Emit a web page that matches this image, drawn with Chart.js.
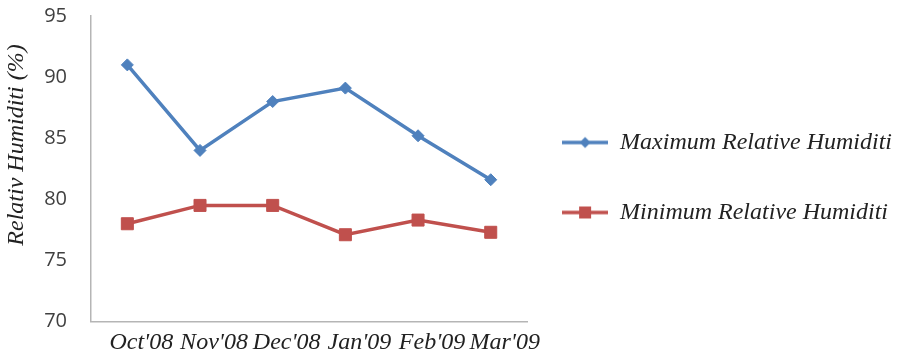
<!DOCTYPE html>
<html>
<head>
<meta charset="utf-8">
<script src="https://cdn.jsdelivr.net/npm/chart.js@4/dist/chart.umd.min.js"></script>
<style>
  html, body { margin: 0; padding: 0; background: #ffffff; }
  #wrap { width: 897px; height: 355px; position: relative; }
</style>
</head>
<body>
<div id="wrap"><canvas id="rh"></canvas></div>
<script>
// Monthly relative humidity, October 2008 to March 2009
const months = ["Oct'08", "Nov'08", "Dec'08", "Jan'09", "Feb'09", "Mar'09"];
const maxHumidity = [91, 84, 88, 89.1, 85.2, 81.6];
const minHumidity = [78, 79.5, 79.5, 77.1, 78.3, 77.3];
const yMin = 70, yMax = 95, yStep = 5;
const seriesNames = ['Maximum Relative Humiditi', 'Minimum Relative Humiditi'];
const yTitle = 'Relativ Humiditi (%)';

const BLUE = '#4f81bd';
const RED = '#c0504d';
const SERIF = '"Liberation Serif", "Times New Roman", serif';

// Legend icons: a short line segment with the series marker in the middle
function legendIcon(color, shape) {
  const c = document.createElement('canvas');
  c.width = 46; c.height = 16;
  const g = c.getContext('2d');
  g.strokeStyle = color; g.lineWidth = 3.5;
  g.beginPath(); g.moveTo(0, 8); g.lineTo(46, 8); g.stroke();
  g.fillStyle = color;
  g.beginPath();
  if (shape === 'diamond') {
    g.moveTo(23, 2.5); g.lineTo(28.5, 8); g.lineTo(23, 13.5); g.lineTo(17.5, 8);
  } else {
    g.rect(17, 2, 12, 12);
  }
  g.closePath(); g.fill();
  return c;
}
const legendIcons = [legendIcon(BLUE, 'diamond'), legendIcon(RED, 'square')];

// Rotated y-axis caption
const yCaption = {
  id: 'yCaption',
  afterDraw(chart) {
    const ctx = chart.ctx;
    ctx.save();
    ctx.translate(17, 145);
    ctx.rotate(-Math.PI / 2);
    ctx.font = 'italic 24px ' + SERIF;
    ctx.fillStyle = '#222222';
    ctx.textAlign = 'center';
    ctx.textBaseline = 'middle';
    ctx.fillText(yTitle, 0, 0);
    ctx.restore();
  }
};

// Legend spans the full height and sits a little closer to the plot
const legendPlacement = {
  id: 'legendPlacement',
  afterLayout(chart) {
    const lg = chart.legend;
    lg.top = 0;
    lg.left -= 11;
    lg.right -= 11;
  }
};

// Axes keep to the sizes given here, without extra room for end labels
function noEdgePadding(scale) {
  scale.paddingTop = 0;
  scale.paddingBottom = 0;
  scale.paddingLeft = 0;
  scale.paddingRight = 0;
}

new Chart(document.getElementById('rh'), {
  type: 'line',
  data: {
    labels: months,
    datasets: [
      {
        label: seriesNames[0],
        data: maxHumidity,
        borderColor: BLUE,
        backgroundColor: BLUE,
        borderWidth: 3.5,
        tension: 0,
        pointStyle: 'rectRot',
        pointRadius: 6,
        pointBorderWidth: 1,
        pointHoverRadius: 6
      },
      {
        label: seriesNames[1],
        data: minHumidity,
        borderColor: RED,
        backgroundColor: RED,
        borderWidth: 3.5,
        tension: 0,
        pointStyle: 'rect',
        pointRadius: 8.5,
        pointBorderWidth: 1,
        pointHoverRadius: 8.5
      }
    ]
  },
  options: {
    responsive: true,
    maintainAspectRatio: false,
    animation: false,
    layout: { padding: { top: 16, right: -16, left: 0, bottom: 0 } },
    plugins: {
      title: { display: false },
      tooltip: { enabled: false },
      legend: {
        position: 'right',
        align: 'center',
        maxWidth: 420,
        labels: {
          usePointStyle: true,
          pointStyleWidth: 46,
          padding: 46,
          color: '#222222',
          font: { family: SERIF, size: 24, style: 'italic' },
          generateLabels(chart) {
            const base = Chart.defaults.plugins.legend.labels.generateLabels(chart);
            return base.map((item, i) => Object.assign(item, { pointStyle: legendIcons[i] }));
          }
        }
      }
    },
    scales: {
      x: {
        offset: true,
        grid: { display: false, drawTicks: false },
        border: { display: true, color: '#b5b5b5', width: 1.5 },
        ticks: {
          color: '#222222',
          font: { family: SERIF, size: 24, style: 'italic' },
          padding: 7,
          labelOffset: 14,
          maxRotation: 0,
          autoSkip: false
        },
        afterFit(scale) { scale.height = 33.5; noEdgePadding(scale); }
      },
      y: {
        min: yMin,
        max: yMax,
        grid: { display: false, drawTicks: false },
        border: { display: true, color: '#b5b5b5', width: 1.5 },
        ticks: {
          stepSize: yStep,
          color: '#404040',
          font: { family: '"Open Sans", sans-serif', size: 20 },
          padding: 24
        },
        afterFit(scale) { scale.width = 91; noEdgePadding(scale); }
      }
    }
  },
  plugins: [yCaption, legendPlacement]
});
</script>
</body>
</html>
